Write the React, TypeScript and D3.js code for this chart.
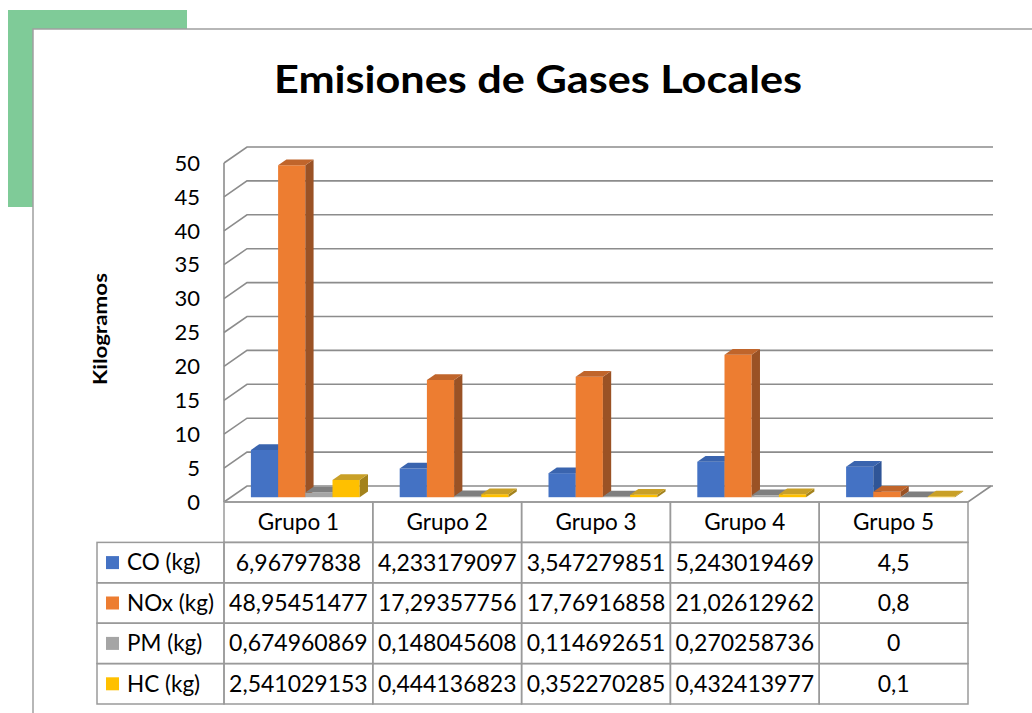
import React from 'react';
import { scaleLinear, scaleBand } from 'd3';

const groups = ['Grupo 1', 'Grupo 2', 'Grupo 3', 'Grupo 4', 'Grupo 5'];
const seriesNames = ['CO (kg)', 'NOx (kg)', 'PM (kg)', 'HC (kg)'];
const coValues = [6.96797838, 4.233179097, 3.547279851, 5.243019469, 4.5];
const noxValues = [48.95451477, 17.29357756, 17.76916858, 21.02612962, 0.8];
const pmValues = [0.674960869, 0.148045608, 0.114692651, 0.270258736, 0];
const hcValues = [2.541029153, 0.444136823, 0.352270285, 0.432413977, 0.1];
const yTicks = [0, 5, 10, 15, 20, 25, 30, 35, 40, 45, 50];

const seriesValues = [coValues, noxValues, pmValues, hcValues];
// front, top, side
const palette = [
  ['#4472C4', '#3A64AE', '#2F5597'],
  ['#ED7D31', '#C0652B', '#9A5225'],
  ['#A5A5A5', '#7F7F7F', '#6B6B6B'],
  ['#FFC000', '#C9A027', '#A3821C'],
];

const font = 'Lato, "Open Sans", sans-serif';
const gridColor = '#8c8c8c';

// 3d depth offset of the back wall
const depthX = 23;
const depthY = -16;
const barFront = 0.3;
const barBack = 0.66;

const x = scaleBand<string>().domain(groups).range([224, 968]);
const xInner = scaleBand<string>()
  .domain(seriesNames)
  .range([20, x.bandwidth() - 20]);
const y = scaleLinear().domain([0, 50]).range([502, 163]);
const rows = scaleBand<string>()
  .domain(['header', ...seriesNames])
  .range([502, 704]);

const p = (px: number, py: number, f: number) =>
  `${px + f * depthX},${py + f * depthY}`;

const fmt = (v: number) => String(v).replace('.', ',');

const App: React.FC = () => {
  const x0 = x.range()[0];
  const x1 = x.range()[1];

  return (
    <svg width={1032} height={713} style={{ position: 'absolute', left: 0, top: 0 }}>
      <rect x={0} y={0} width={1032} height={713} fill="#fff" />
      <rect x={8} y={10} width={179} height={197} fill="#7FCB98" />
      <rect x={33} y={29} width={1010} height={700} fill="#fff" stroke="#a0a0a0" strokeWidth={1.5} />

      <text
        x={274}
        y={93}
        fontFamily={font}
        fontWeight="bold"
        fontSize={38}
        textLength={528}
        lengthAdjust="spacingAndGlyphs"
      >
        Emisiones de Gases Locales
      </text>

      <text
        transform="translate(107,329) rotate(-90)"
        x={-56}
        fontFamily={font}
        fontWeight="bold"
        fontSize={19}
        textLength={112}
        lengthAdjust="spacingAndGlyphs"
      >
        Kilogramos
      </text>

      {/* walls and gridlines */}
      <g stroke={gridColor} strokeWidth={1.6} fill="none">
        <line x1={x0} x2={x0} y1={y(50)} y2={y(0)} />
        {yTicks.map(t => (
          <polyline
            key={t}
            points={`${x0},${y(t)} ${x0 + depthX},${y(t) + depthY} ${x1 + depthX + 2},${y(t) + depthY}`}
          />
        ))}
        <polyline points={`${x0},${y(0)} ${x1},${y(0)} ${x1 + depthX},${y(0) + depthY}`} />
      </g>

      {yTicks.map(t => (
        <text key={t} x={200} y={y(t)} dy="0.35em" textAnchor="end" fontFamily={font} fontSize={22}>
          {t}
        </text>
      ))}

      {/* bars */}
      {groups.map((g, gi) => (
        <g key={g}>
          {seriesNames.map((s, si) => {
            const v = seriesValues[si][gi];
            const bx0 = (x(g) as number) + (xInner(s) as number);
            const bx1 = bx0 + xInner.bandwidth();
            const yt = y(v);
            const yb = y(0);
            const [front, top, side] = palette[si];
            return (
              <g key={s}>
                <polygon points={`${p(bx0, yt, barFront)} ${p(bx1, yt, barFront)} ${p(bx1, yb, barFront)} ${p(bx0, yb, barFront)}`} fill={front} />
                <polygon points={`${p(bx1, yt, barFront)} ${p(bx1, yt, barBack)} ${p(bx1, yb, barBack)} ${p(bx1, yb, barFront)}`} fill={side} />
                <polygon points={`${p(bx0, yt, barFront)} ${p(bx1, yt, barFront)} ${p(bx1, yt, barBack)} ${p(bx0, yt, barBack)}`} fill={top} />
              </g>
            );
          })}
        </g>
      ))}

      {/* data table */}
      <g stroke="#9a9a9a" strokeWidth={1.5} fill="none">
        {groups.map(g => (
          <rect key={g} x={x(g)} y={rows('header')} width={x.bandwidth()} height={rows.bandwidth()} />
        ))}
        {seriesNames.map(s => (
          <g key={s}>
            <rect x={97} y={rows(s)} width={x0 - 97} height={rows.bandwidth()} />
            {groups.map(g => (
              <rect key={g} x={x(g)} y={rows(s)} width={x.bandwidth()} height={rows.bandwidth()} />
            ))}
          </g>
        ))}
      </g>
      {groups.map(g => (
        <text
          key={g}
          x={(x(g) as number) + x.bandwidth() / 2}
          y={(rows('header') as number) + rows.bandwidth() / 2}
          dy="0.35em"
          textAnchor="middle"
          fontFamily={font}
          fontSize={22.5}
        >
          {g}
        </text>
      ))}
      {seriesNames.map((s, si) => {
        const cy = (rows(s) as number) + rows.bandwidth() / 2;
        return (
          <g key={s}>
            <rect x={106} y={cy - 6.5} width={13} height={13} fill={palette[si][0]} />
            <text x={127} y={cy} dy="0.35em" fontFamily={font} fontSize={22.5}>
              {s}
            </text>
            {groups.map((g, gi) => (
              <text
                key={g}
                x={(x(g) as number) + x.bandwidth() / 2}
                y={cy}
                dy="0.35em"
                textAnchor="middle"
                fontFamily={font}
                fontSize={23}
              >
                {fmt(seriesValues[si][gi])}
              </text>
            ))}
          </g>
        );
      })}
    </svg>
  );
};

export default App;
